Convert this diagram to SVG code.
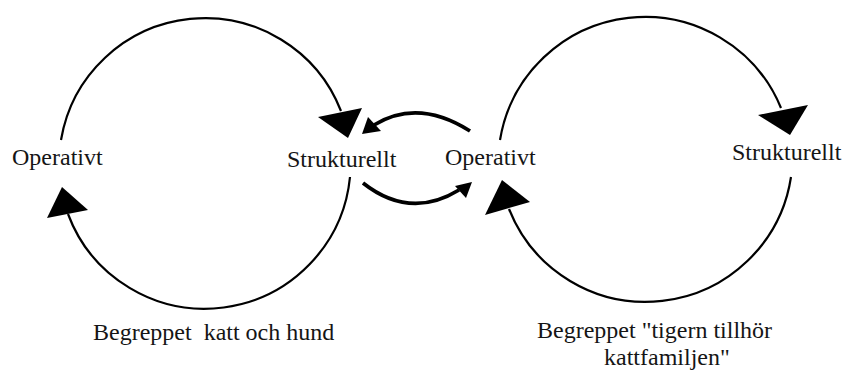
<svg xmlns="http://www.w3.org/2000/svg" width="844" height="370" viewBox="0 0 844 370">
<style>
.arc{fill:none;stroke:#000;stroke-width:2.2}
.mid{fill:none;stroke:#000;stroke-width:3.8}
.head{fill:#000;stroke:none}
text{font-family:'Liberation Serif','Times New Roman',serif;font-size:24px;fill:#151515}
</style>
<rect width="844" height="370" fill="#fff"/>
<g id="connectors">
<path class="arc" d="M 61 140 A 146 146 0 0 1 341 111"/>
<polygon class="head" points="318,117 362,108 348,138"/>
<path class="arc" d="M 350 177 A 146 146 0 0 1 68 214"/>
<polygon class="head" points="62,187 47,218 88,210"/>
<path class="arc" d="M 500 140 A 147 147 0 0 1 781 108"/>
<polygon class="head" points="758,115 808,105 790,135"/>
<path class="arc" d="M 791 177 A 147 147 0 0 1 509 209"/>
<polygon class="head" points="502,180 485,215 530,202"/>
<path class="mid" d="M 470 131 Q 418 98 374 125"/>
<polygon class="head" points="362,134 368,117 381,131"/>
<path class="mid" d="M 363 183 Q 410 220 459 190"/>
<polygon class="head" points="472,182 455,186 466,198"/>
</g>
<g id="op1"><text x="12" y="165">Operativt</text></g>
<g id="st1"><text x="287" y="167">Strukturellt</text></g>
<g id="op2"><text x="445" y="165">Operativt</text></g>
<g id="st2"><text x="732" y="160">Strukturellt</text></g>
<g id="lbl1"><text x="93" y="340" xml:space="preserve">Begreppet  katt och hund</text></g>
<g id="lbl2"><text x="537" y="338">Begreppet "tigern tillhör</text><text x="604" y="365">kattfamiljen"</text></g>
</svg>
